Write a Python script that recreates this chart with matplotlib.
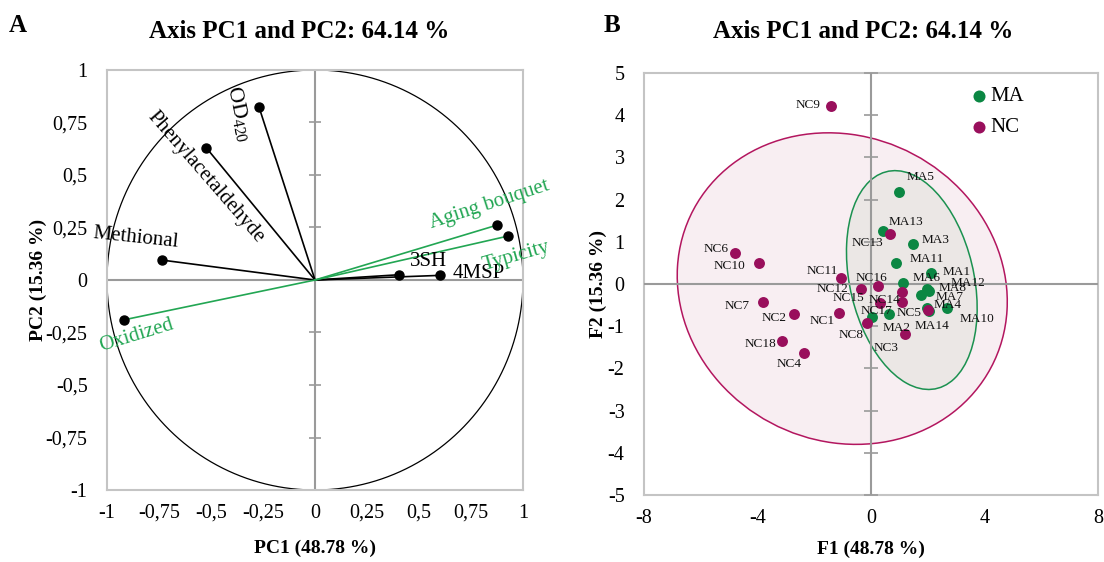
import numpy as np
import matplotlib
matplotlib.use('Agg')
import matplotlib.pyplot as plt
from matplotlib.patches import Ellipse

plt.rcParams['font.family'] = ['Liberation Serif', 'DejaVu Serif']
plt.rcParams['mathtext.fontset'] = 'custom'
plt.rcParams['mathtext.rm'] = 'Liberation Serif'
plt.rcParams['mathtext.it'] = 'Liberation Serif:italic'
plt.rcParams['mathtext.bf'] = 'Liberation Serif:bold'
plt.rcParams['axes.unicode_minus'] = False

# ---------------- Data: panel A (correlation circle) ----------------
var_labels = [r'OD$_{420}$', 'Phenylacetaldehyde', 'Methional', '3SH', '4MSP',
              'Aging bouquet', 'Typicity', 'Oxidized']
var_pc1 = [-0.27, -0.523, -0.737, 0.403, 0.60, 0.874, 0.927, -0.92]
var_pc2 = [0.826, 0.63, 0.095, 0.025, 0.022, 0.261, 0.209, -0.19]
var_kind = ['chem', 'chem', 'chem', 'chem', 'chem', 'sens', 'sens', 'sens']

a_ticks = [-1, -0.75, -0.5, -0.25, 0, 0.25, 0.5, 0.75, 1]
a_ticklabels = ['-1', '-0,75', '-0,5', '-0,25', '0', '0,25', '0,5', '0,75', '1']

# ---------------- Data: panel B (observations) ----------------
ma_names = ['MA1', 'MA2', 'MA3', 'MA4', 'MA5', 'MA6', 'MA7', 'MA8', 'MA9', 'MA10',
            'MA11', 'MA12', 'MA13', 'MA14']
ma_f1 = [2.13, 0.63, 1.48, 1.96, 1.00, 1.13, 1.75, 2.03, 0.02, 2.68, 0.88, 1.98, 0.44, 2.03]
ma_f2 = [0.25, -0.72, 0.95, -0.58, 2.17, 0.02, -0.27, -0.16, -0.78, -0.56, 0.49, -0.11, 1.26, -0.65]

nc_names = ['NC1', 'NC2', 'NC3', 'NC4', 'NC5', 'NC6', 'NC7', 'NC8', 'NC9', 'NC10',
            'NC11', 'NC12', 'NC13', 'NC14', 'NC15', 'NC16', 'NC17', 'NC18']
nc_f1 = [-1.14, -2.72, 1.19, -2.36, 2.01, -4.81, -3.80, -0.13, -1.41, -3.96,
         -1.06, -0.35, 0.68, 1.08, 0.32, 0.25, 1.10, -3.13]
nc_f2 = [-0.68, -0.71, -1.19, -1.63, -0.62, 0.73, -0.42, -0.92, 4.21, 0.50,
         0.15, -0.11, 1.19, -0.19, -0.46, -0.04, -0.43, -1.34]

b_xticks = [-8, -4, 0, 4, 8]
b_yticks = [-5, -4, -3, -2, -1, 0, 1, 2, 3, 4, 5]

# ---------------- Styles ----------------
DPI = 100
GREEN_A = '#22a653'
MA_COL = '#0b8743'
NC_COL = '#990f5c'
NC_EDGE = '#b3165f'
MA_EDGE = '#1b9150'
NC_FILL = '#f8eef2'
MA_FILL = '#ebe7e5'
FRAME = '#c4c4c4'
CROSS = '#9a9a9a'

# label offsets in pixels (dx right, dy up), rotation, font size for panel A
a_label_style = {
    r'OD$_{420}$': (-20, -7, -78, 16),
    'Phenylacetaldehyde': (-1, -29, -49, 15),
    'Methional': (-26, 22, -6, 15),
    '3SH': (30, 13, 0, 15),
    '4MSP': (39, 2, 0, 15),
    'Aging bouquet': (-7, 21, 18, 15),
    'Typicity': (8, -20, 16, 15),
    'Oxidized': (13, -16, 17, 15),
}

b_label_off = {
    'MA1': (25, 1), 'MA2': (8, -14), 'MA3': (23, 4), 'MA4': (21, 3), 'MA5': (21, 15),
    'MA6': (24, 5), 'MA7': (29, -2), 'MA8': (24, 3), 'MA10': (30, -11), 'MA11': (31, 4),
    'MA12': (41, 6), 'MA13': (22, 9), 'MA14': (3, -15),
    'NC1': (-16, -8), 'NC2': (-20, -4), 'NC3': (-19, -14), 'NC4': (-15, -11),
    'NC5': (-19, -3), 'NC6': (-18, 4), 'NC7': (-26, -4), 'NC8': (-16, -12),
    'NC9': (-23, 1), 'NC10': (-29, -3), 'NC11': (-19, 7), 'NC12': (-29, 0),
    'NC13': (-23, -9), 'NC14': (-17, -8), 'NC15': (-32, 5), 'NC16': (-7, 8),
    'NC17': (-26, -9), 'NC18': (-22, -3),
}


def px2pt(v):
    return v * 72.0 / DPI


def pred_ellipse(x, y, p=0.95, **kw):
    x = np.asarray(x, dtype=float); y = np.asarray(y, dtype=float)
    n = len(x)
    d2 = n - 2
    F = (d2 / 2.0) * ((1 - p) ** (-2.0 / d2) - 1)
    k2 = 2.0 * (n - 1) / (n - 2) * F * (n + 1) / n
    cov = np.cov(x, y)
    vals, vecs = np.linalg.eigh(cov)
    order = vals.argsort()[::-1]
    vals = vals[order]; vecs = vecs[:, order]
    angle = np.degrees(np.arctan2(vecs[1, 0], vecs[0, 0]))
    return Ellipse((x.mean(), y.mean()), 2 * np.sqrt(k2 * vals[0]),
                   2 * np.sqrt(k2 * vals[1]), angle=angle, **kw)


fig = plt.figure(figsize=(11.04, 5.62), dpi=DPI)

# ================= Panel A =================
axA = fig.add_axes([107 / 1104, 1 - 490 / 562, 416 / 1104, 420 / 562])
axA.set_xlim(-1, 1)
axA.set_ylim(-1, 1)
for s in axA.spines.values():
    s.set_color(FRAME)
    s.set_linewidth(1.5)
axA.axhline(0, color=CROSS, lw=1.5, zorder=1)
axA.axvline(0, color=CROSS, lw=1.5, zorder=1)
axA.plot(np.zeros(len(a_ticks)), a_ticks, ls='none', marker='_', ms=8,
         mew=1.2, color=CROSS, zorder=1, clip_on=False)
t = np.linspace(0, 2 * np.pi, 400)
axA.plot(np.cos(t), np.sin(t), color='black', lw=0.9, zorder=2)
for lab, x, y, k in zip(var_labels, var_pc1, var_pc2, var_kind):
    col = 'black' if k == 'chem' else GREEN_A
    axA.plot([0, x], [0, y], color=col, lw=1.2, zorder=3)
    axA.plot([x], [y], 'o', color='black', ms=6.5, zorder=4)
    dx, dy, rot, fs = a_label_style[lab]
    axA.annotate(lab, (x, y), xytext=(px2pt(dx), px2pt(dy)), textcoords='offset points',
                 ha='center', va='center', rotation=rot, rotation_mode='anchor',
                 fontsize=fs, color=col, annotation_clip=False, zorder=5)
axA.set_xticks(a_ticks)
axA.set_xticklabels(a_ticklabels)
axA.set_yticks(a_ticks)
axA.set_yticklabels(a_ticklabels)
axA.tick_params(length=0, labelsize=14.5, pad=10)
axA.tick_params(axis='y', pad=14)
axA.set_xlabel('PC1 (48.78 %)', fontsize=14, fontweight='bold')
axA.set_ylabel('PC2 (15.36 %)', fontsize=14, fontweight='bold')
axA.xaxis.set_label_coords(0.5, (490 - 548) / 420)
axA.xaxis.label.set_va('center')
axA.yaxis.set_label_coords((38 - 107) / 416, 0.5)
axA.yaxis.label.set_va('center')

# ================= Panel B =================
axB = fig.add_axes([644 / 1104, 1 - 495 / 562, 454 / 1104, 422 / 562])
axB.set_xlim(-8, 8)
axB.set_ylim(-5, 5)
for s in axB.spines.values():
    s.set_color(FRAME)
    s.set_linewidth(1.5)
axB.axhline(0, color=CROSS, lw=1.5, zorder=3)
axB.axvline(0, color=CROSS, lw=1.5, zorder=3)
axB.plot(np.zeros(len(b_yticks)), b_yticks, ls='none', marker='_', ms=10,
         mew=1.2, color=CROSS, zorder=3, clip_on=False)

axB.add_patch(pred_ellipse(nc_f1, nc_f2, facecolor=NC_FILL, edgecolor=NC_EDGE, lw=1.1, zorder=1))
axB.add_patch(pred_ellipse(ma_f1, ma_f2, facecolor=MA_FILL, edgecolor=MA_EDGE, lw=1.1, zorder=2))

axB.scatter(ma_f1, ma_f2, s=62, color=MA_COL, zorder=4, label='MA', linewidths=0)
axB.scatter(nc_f1, nc_f2, s=62, color=NC_COL, zorder=5, label='NC', linewidths=0)
for names, xs, ys in ((ma_names, ma_f1, ma_f2), (nc_names, nc_f1, nc_f2)):
    for nm, x, y in zip(names, xs, ys):
        if nm not in b_label_off:
            continue
        dx, dy = b_label_off[nm]
        axB.annotate(nm, (x, y), xytext=(px2pt(dx), px2pt(dy)), textcoords='offset points',
                     ha='center', va='center', fontsize=9.5, color='#111111', zorder=6)

axB.set_xticks(b_xticks)
axB.set_yticks(b_yticks)
axB.tick_params(length=0, labelsize=14.5, pad=10)
axB.tick_params(axis='y', pad=14)
axB.set_xlabel('F1 (48.78 %)', fontsize=14, fontweight='bold')
axB.set_ylabel('F2 (15.36 %)', fontsize=14, fontweight='bold')
axB.xaxis.set_label_coords(0.5, (495 - 549) / 422)
axB.xaxis.label.set_va('center')
axB.yaxis.set_label_coords((598 - 644) / 454, 0.5)
axB.yaxis.label.set_va('center')
axB.legend(loc='upper left', bbox_to_anchor=(0.715, 0.968), frameon=False,
           fontsize=15, handletextpad=0.05, borderpad=0, labelspacing=0.55,
           markerscale=1.1, handlelength=1.0, borderaxespad=0)

# ================= Titles and panel letters =================
fig.text(299 / 1104, 1 - 31 / 562, 'Axis PC1 and PC2: 64.14 %', ha='center', va='center',
         fontsize=18, fontweight='bold')
fig.text(863 / 1104, 1 - 31 / 562, 'Axis PC1 and PC2: 64.14 %', ha='center', va='center',
         fontsize=18, fontweight='bold')
fig.text(18 / 1104, 1 - 26 / 562, 'A', ha='center', va='center', fontsize=18, fontweight='bold')
fig.text(612 / 1104, 1 - 26 / 562, 'B', ha='center', va='center', fontsize=18, fontweight='bold')

fig.savefig('out.png', dpi=DPI)
